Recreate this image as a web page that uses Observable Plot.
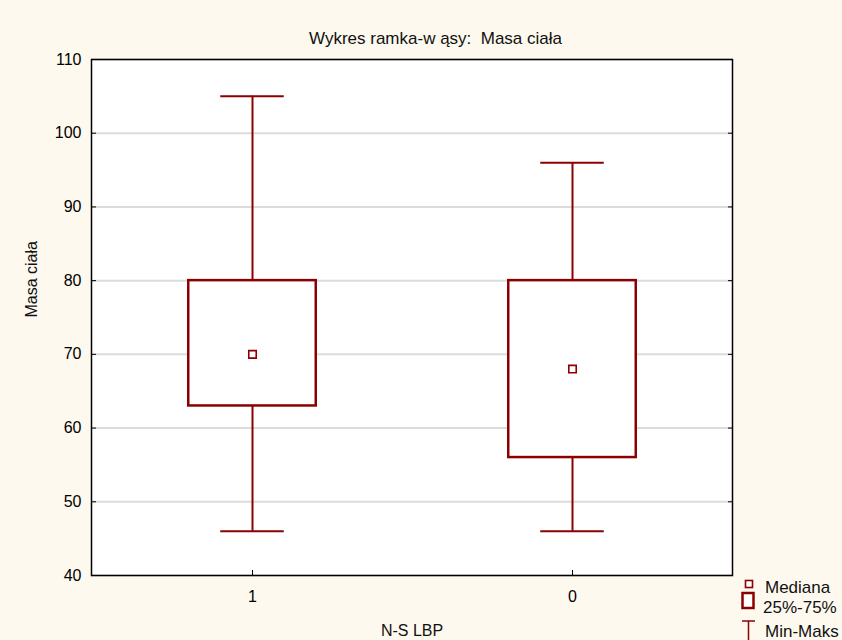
<!DOCTYPE html>
<html>
<head>
<meta charset="utf-8">
<script src="https://cdn.jsdelivr.net/npm/d3@7"></script>
<script src="https://cdn.jsdelivr.net/npm/@observablehq/plot@0.6"></script>
<style>
  html, body { margin: 0; padding: 0; background: #fdf9ef; }
  #wrap { position: relative; width: 842px; height: 640px; overflow: hidden; background: #fdf9ef; }
  #wrap svg text { white-space: pre; }
  #legend { position: absolute; left: 0; top: 0; pointer-events: none; }
</style>
</head>
<body>
<div id="wrap"></div>
<script>
// ---- data ----
const categories = ["1", "0"];
const minVals    = [46, 46];
const q1Vals     = [63, 56];
const medianVals = [70, 68];
const q3Vals     = [80, 80];
const maxVals    = [105, 96];
const yTicks     = [40, 50, 60, 70, 80, 90, 100, 110];
const titleText  = "Wykres ramka-w ąsy:  Masa ciała";
const xLabel     = "N-S LBP";
const yLabel     = "Masa ciała";
const legendLabels = ["Mediana", "25%-75%", "Min-Maks"];

const data = categories.map((c, i) => ({
  cat: c, min: minVals[i], q1: q1Vals[i], med: medianVals[i], q3: q3Vals[i], max: maxVals[i]
}));

// ---- layout ----
const W = 842, H = 640, mL = 91, mR = 110, mT = 59, mB = 65;
const bw = (W - mL - mR) / categories.length;
const red = "#8b0000";
const font = "'Liberation Sans', Arial, sans-serif";

const chart = Plot.plot({
  width: W, height: H,
  marginLeft: mL, marginRight: mR, marginTop: mT, marginBottom: mB,
  style: { background: "transparent", fontFamily: font, fontSize: "16px", color: "black" },
  x: { domain: categories, padding: 0, label: null },
  y: { domain: [40, 110], label: null },
  marks: [
    Plot.frame({ fill: "white", stroke: null }),
    Plot.gridY(yTicks, { stroke: "#dcdcdc", strokeOpacity: 1, strokeWidth: 2 }),
    Plot.ruleX(data, { x: "cat", y1: "min", y2: "max", stroke: red, strokeWidth: 2 }),
    Plot.tickY(data, { x: "cat", y: "min", stroke: red, strokeWidth: 2, insetLeft: (bw - 64) / 2, insetRight: (bw - 64) / 2 }),
    Plot.tickY(data, { x: "cat", y: "max", stroke: red, strokeWidth: 2, insetLeft: (bw - 64) / 2, insetRight: (bw - 64) / 2 }),
    Plot.barY(data, { x: "cat", y1: "q1", y2: "q3", fill: "white", stroke: red, strokeWidth: 2.5, insetLeft: (bw - 128) / 2, insetRight: (bw - 128) / 2 }),
    Plot.dot(data, { x: "cat", y: "med", symbol: "square", r: 4.2, fill: "white", stroke: red, strokeWidth: 1.6 }),
    Plot.frame({ stroke: "black", strokeWidth: 1.5 }),
    Plot.axisY(yTicks, { anchor: "left", tickSize: -5, tickPadding: 15, label: null, fontSize: 16 }),
    Plot.axisY(yTicks, { anchor: "right", tickSize: -5, tickFormat: () => "", label: null }),
    Plot.axisX(categories, { anchor: "bottom", tickSize: -5, tickPadding: 20, label: null, fontSize: 16 }),
    Plot.text([titleText], { frameAnchor: "top", dx: 23.5, dy: -16, lineAnchor: "bottom", fontSize: 17, fill: "#111" }),
    Plot.text([xLabel], { frameAnchor: "bottom", dy: 60, lineAnchor: "bottom", fontSize: 16, fill: "#111" }),
    Plot.text([yLabel], { frameAnchor: "left", dx: -55, rotate: -90, lineAnchor: "bottom", fontSize: 16, fill: "#111" })
  ]
});
document.getElementById("wrap").appendChild(chart);

// ---- legend ----
const ns = "http://www.w3.org/2000/svg";
const lg = document.createElementNS(ns, "svg");
lg.setAttribute("id", "legend");
lg.setAttribute("width", W);
lg.setAttribute("height", H);
lg.innerHTML = `
  <rect x="745.5" y="580.5" width="7" height="7" fill="white" stroke="${red}" stroke-width="1.6"/>
  <rect x="742.5" y="593" width="11" height="15" fill="white" stroke="${red}" stroke-width="2.5"/>
  <line x1="742" y1="621" x2="755" y2="621" stroke="${red}" stroke-width="1.5"/>
  <line x1="748.5" y1="621" x2="748.5" y2="641" stroke="${red}" stroke-width="1.5"/>
  <g font-family="${font.replace(/'/g, "")}" font-size="17" fill="#111">
    <text x="765" y="593">${legendLabels[0]}</text>
    <text x="763" y="613">${legendLabels[1]}</text>
    <text x="765" y="637">${legendLabels[2]}</text>
  </g>`;
document.getElementById("wrap").appendChild(lg);
</script>
</body>
</html>
